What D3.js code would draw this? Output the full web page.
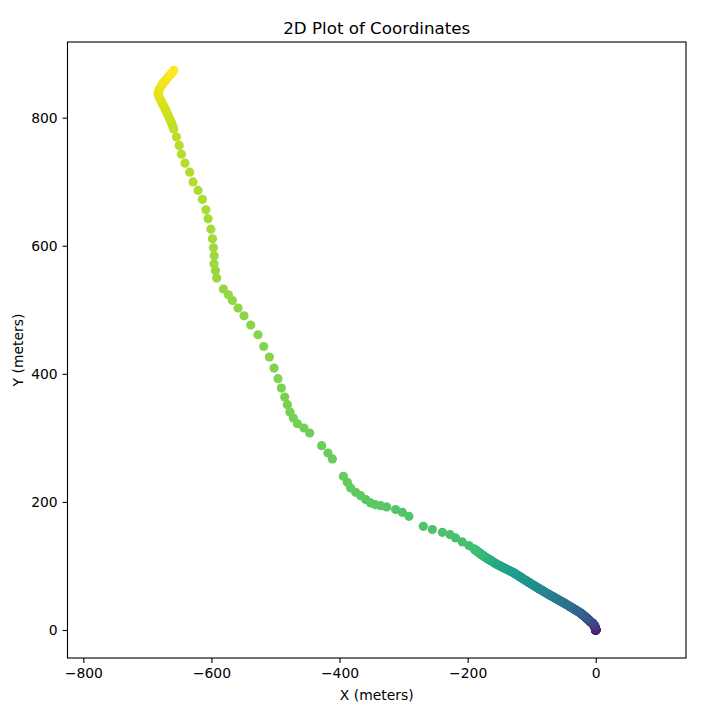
<!DOCTYPE html>
<html>
<head>
<meta charset="utf-8">
<script src="https://d3js.org/d3.v7.min.js"></script>
<style>
  body { margin: 0; background: #fff; }
  text { font-family: "DejaVu Sans", sans-serif; fill: #000; }
</style>
</head>
<body>
<div id="graph"></div>
<script>

// path points, in order of time (index drives the colour)
// waiting near the start
var startX = [0,0.1,0,-0.1,0.1,0,-0.1,0.1,0,-0.1,0,0.1,-0.1,0,0.1,0,-0.1,0,0.1,-0.1,0,0.1,-0.1,0,0,-0.1,0,-0.1,0,-0.1,
  -0.4,-0.5,-0.6,-0.7,-0.8,-0.9,-1.0,-1.2,-1.3,-1.5,-1.6,-1.8,-2.0,-2.2,-2.4,-2.6,-2.8,-3.0,-3.2,-3.4,
  -3.6,-3.9,-4.1,-4.4,-4.6,-4.9,-5.2,-5.5,-5.8,-6.1,-6.5,-6.8,-7.2,-7.5,-7.9,-8.3];
var startY = [0,0.1,0,0.2,0.1,0,0.2,0.1,0.3,0.2,0.1,0.3,0.2,0.1,0.3,0.2,0.4,0.3,0.2,0.4,0.3,0.2,0.4,0.3,0.5,0.4,0.3,0.5,0.4,0.6,
  2.1,2.4,2.8,3.1,3.5,3.8,4.2,4.5,4.9,5.2,5.6,5.9,6.2,6.6,6.9,7.2,7.5,7.8,8.1,8.4,
  8.7,9.0,9.3,9.6,9.9,10.2,10.4,10.7,11.0,11.3,11.6,11.8,12.1,12.4,12.7,13.0];

// dense stretch going north-west
var denseX = [-8.9,-9.5,-10.1,-10.7,-11.3,-11.9,-12.5,-13.1,-13.7,-14.3,-14.9,-15.5,-16.1,-16.7,-17.3,-17.9,-18.5,-19.1,-19.7,-20.3,-20.9,-21.5,-22.1,-22.7,-23.3,-23.9,
  -25.2,-26.5,-27.8,-29.1,-30.4,-31.7,-33.0,-34.3,-35.6,-36.9,-38.2,-39.5,-40.8,-42.1,-43.4,-44.7,-46.0,-47.3,-48.6,-49.9,
  -51.2,-52.5,-53.8,-55.1,-56.4,-57.7,-59.0,-60.3,-61.6,-62.9,-64.2,-65.5,-66.8,-68.1,-69.4,-70.7,-72.0,-73.3,-74.6,-75.9,
  -77.4,-78.9,-80.4,-81.9,-83.4,-84.9,-86.4,-87.9,-89.4,-90.9,-92.4,-93.9,-95.4,-96.9,-98.4,-99.9,-101.4,-102.9,-104.4,-105.9,-107.4,-108.9,-110.4,-111.9,
  -113.7,-115.5,-117.4,-119.2,-121.0,-122.9,-124.7,-126.5,-128.4,-130.2,-132.0,-133.9,-135.7,-137.5,-139.4,-141.2,-143.0,-144.9,-146.7,-148.5,-150.4,-152.2,-154.0,-155.9,-157.7,-159.5,-161.4,-163.2,
  -164.2,-165.2,-166.3,-167.3,-168.3,-169.4,-170.4,-171.4,-172.5,-173.5,-174.5,-175.6,-176.6,-177.6,-178.7,-179.7,-180.7,-181.8,-182.8,-183.8,-184.9,-185.9,-186.9,-188.0,-189.0,-190.0];
var denseY = [13.6,14.2,14.9,15.5,16.0,16.5,17.0,17.5,18.0,18.6,19.1,19.6,20.1,20.6,21.1,21.6,22.1,22.6,23.1,23.6,24.2,24.7,25.2,25.7,26.2,26.7,
  27.5,28.3,29.1,29.8,30.6,31.4,32.2,33.0,33.8,34.6,35.3,36.1,36.9,37.7,38.5,39.3,40.0,40.8,41.6,42.4,
  43.1,43.9,44.6,45.3,46.1,46.8,47.5,48.2,49.0,49.7,50.4,51.2,51.9,52.6,53.3,54.1,54.8,55.5,56.3,57.0,
  57.9,58.8,59.7,60.6,61.5,62.4,63.3,64.2,65.1,66.0,66.9,67.8,68.7,69.6,70.5,71.4,72.3,73.3,74.2,75.2,76.2,77.1,78.1,79.0,
  80.2,81.3,82.5,83.7,84.8,86.0,87.2,88.4,89.5,90.4,91.3,92.2,93.2,94.1,95.0,95.9,96.8,97.7,98.7,99.6,100.5,101.4,102.4,103.5,104.6,105.7,106.9,108.0,
  108.6,109.3,109.9,110.5,111.2,111.8,112.4,113.1,113.7,114.4,115.0,115.8,116.6,117.3,118.1,118.9,119.6,120.4,121.2,122.0,122.7,123.5,124.3,125.1,125.8,126.6];

// sparse stretch (larger steps)
var sparseX = [-198.0,-208.3,-218.8,-227.7,-239.5,-255.1,-269.2,-291.7,-302.0,-312.4,
  -326.5,-335.8,-344.7,-351.4,-359.2,-367.0,-374.8,-382.6,-387.8,-394.0,
  -411.2,-418.1,-427.9,-446.6,-455.5,-465.8,-472.1,-477.4,-481.4,-485.6,
  -490.8,-496.1,-502.3,-509.5,-518.4,-527.3,-538.7,-549.2,-558.5,-567.3,
  -573.5,-581.3,-591.8,-593.8,-596.0,-595.7,-596.9,-598.3,-600.8,-605.3,
  -608.6,-614.1,-620.9,-628.7,-633.9,-641.2,-646.8,-650.3,-654.6,-659.0];
var sparseY = [131.8,137.6,143.8,149.0,152.6,156.8,161.9,177.5,183.8,188.0,
  192.2,194.2,195.8,198.4,203.6,209.8,215.0,221.8,230.6,239.9,
  267.1,276.4,287.8,307.6,315.4,322.2,331.0,340.4,351.8,363.8,
  377.8,392.4,409.0,426.2,442.7,461.0,476.1,490.6,502.7,514.5,
  523.4,532.3,549.5,561.3,571.8,584.2,596.7,610.8,625.9,642.0,
  656.0,672.4,686.4,699.7,714.8,728.9,742.9,756.6,769.9,782.1];

// dense end with the turn at the top
var endX = [-660.0,-661.4,-662.9,-664.4,-665.9,-667.5,-669.1,-670.7,-672.4,-674.1,-675.8,-677.5,-679.2,-680.8,-682.2,-683.3,
  -683.0,-682.0,-680.6,-679.0,-677.2,-675.3,-673.3,-671.2,-669.1,-667.0,-664.9,-662.8,-660.7,-658.6];
var endY = [785.5,789.2,792.8,796.4,800.0,803.5,807.0,810.5,813.9,817.3,820.6,823.9,827.1,830.3,833.6,836.8,
  839.9,842.9,845.8,848.6,851.3,853.9,856.4,858.9,861.4,863.8,866.2,868.6,871.3,874.0];

var xTicks = [-800, -600, -400, -200, 0];
var yTicks = [0, 200, 400, 600, 800];
var xLimits = [-824.7, 140.9];
var yLimits = [-43.7, 918.1];

var xs = startX.concat(denseX, sparseX, endX);
var ys = startY.concat(denseY, sparseY, endY);
var points = xs.map(function(d, i) { return {x: d, y: ys[i], i: i}; });

var margin = {top: 42, right: 23, bottom: 52, left: 67.5},
    width = 709 - margin.left - margin.right,
    height = 710 - margin.top - margin.bottom;

var svg = d3.select("#graph")
  .append("svg")
    .attr("width", 709)
    .attr("height", 710)
  .append("g")
    .attr("transform", "translate(" + margin.left + "," + margin.top + ")");

var x = d3.scaleLinear().domain(xLimits).range([0, width]);
var y = d3.scaleLinear().domain(yLimits).range([height, 0]);
var color = d3.scaleSequential(d3.interpolateViridis).domain([0, points.length - 1]);

// dots
svg.append("g")
  .selectAll("circle")
  .data(points)
  .enter()
  .append("circle")
    .attr("cx", function(d) { return x(d.x); })
    .attr("cy", function(d) { return y(d.y); })
    .attr("r", 4.6)
    .style("fill", function(d) { return color(d.i); });

// axes
var fmt = d3.format("d");
var xAxis = svg.append("g")
  .attr("transform", "translate(0," + height + ")")
  .call(d3.axisBottom(x).tickValues(xTicks).tickFormat(fmt).tickSize(4.9).tickPadding(4.9));
var yAxis = svg.append("g")
  .call(d3.axisLeft(y).tickValues(yTicks).tickFormat(fmt).tickSize(4.9).tickPadding(4.9));
[xAxis, yAxis].forEach(function(a) {
  a.select(".domain").remove();
  a.selectAll("line").attr("stroke", "#000").attr("stroke-width", 1.1);
  a.selectAll("text").attr("font-size", "13.9px").attr("font-family", "DejaVu Sans");
});

// frame
svg.append("rect")
  .attr("width", width)
  .attr("height", height)
  .attr("fill", "none")
  .attr("stroke", "#000")
  .attr("stroke-width", 1.1);

// labels
svg.append("text")
  .attr("x", width / 2)
  .attr("y", -8)
  .attr("font-size", "16.7px")
  .style("text-anchor", "middle")
  .text("2D Plot of Coordinates");

svg.append("text")
  .attr("x", width / 2)
  .attr("y", height + 42)
  .attr("font-size", "13.9px")
  .style("text-anchor", "middle")
  .text("X (meters)");

svg.append("text")
  .attr("transform", "rotate(-90)")
  .attr("x", -height / 2)
  .attr("y", -45)
  .attr("font-size", "13.9px")
  .style("text-anchor", "middle")
  .text("Y (meters)");

</script>
</body>
</html>
